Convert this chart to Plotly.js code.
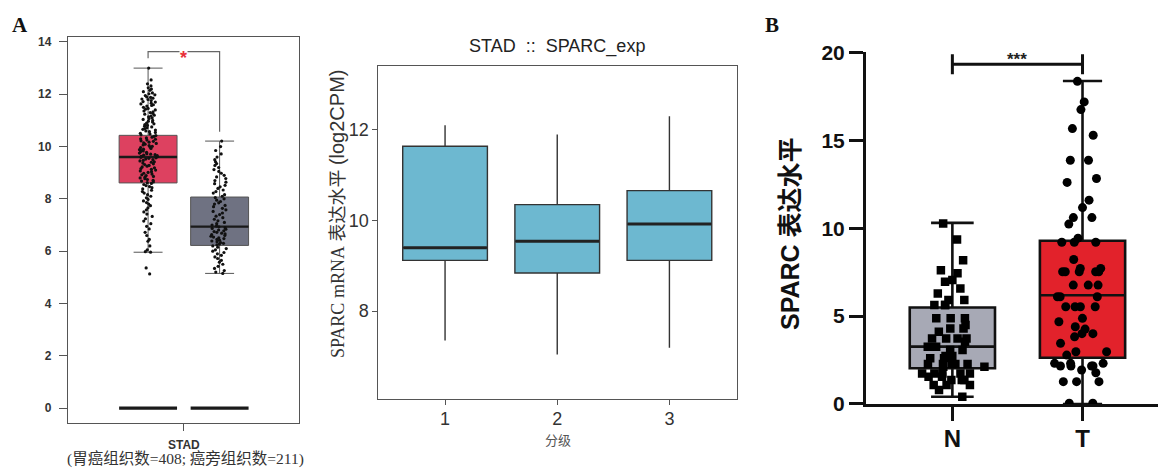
<!DOCTYPE html>
<html>
<head>
<meta charset="utf-8">
<script src="https://cdn.plot.ly/plotly-3.0.1.min.js"></script>
<style>html,body{margin:0;padding:0;background:#fff;}#chart{width:1158px;height:469px;}</style>
</head>
<body>
<div id="chart"></div>
<script>
// ---------- Panel A (left): GEPIA box plot ----------
const gepiaGroups = ['Tumor', 'Normal'];
const gepiaPos = [1, 2];
const gepiaQ1 = [8.61, 6.22];
const gepiaMedian = [9.60, 6.94];
const gepiaQ3 = [10.43, 8.07];
const gepiaLow = [5.96, 5.15];
const gepiaHigh = [13.0, 10.21];
const gepiaZero = [0, 0];
const gepiaTick = ['STAD'];
const tumorPts = [
13.0, 12.55, 12.4, 12.32, 12.25, 12.2, 12.15, 12.1, 12.05, 12.02, 11.98, 11.95, 11.9, 11.88, 11.85, 11.82, 11.8, 11.76, 11.72, 11.7,
11.66, 11.63, 11.6, 11.57, 11.55, 11.5, 11.46, 11.43, 11.4, 11.36, 11.33, 11.3, 11.27, 11.24, 11.2, 11.17, 11.14, 11.1, 11.07, 11.04,
11.0, 10.97, 10.94, 10.9, 10.87, 10.84, 10.81, 10.78, 10.75, 10.72, 10.69, 10.66, 10.63, 10.6, 10.57, 10.54, 10.51, 10.48, 10.45,
10.42, 10.39, 10.36, 10.33, 10.3, 10.28, 10.25, 10.22, 10.2, 10.17, 10.14, 10.12, 10.09, 10.06, 10.04, 10.01, 9.98, 9.96, 9.93, 9.9,
9.88, 9.85, 9.83, 9.8, 9.78, 9.75, 9.73, 9.71, 9.69, 9.67, 9.65, 9.63, 9.61,
9.59, 9.57, 9.55, 9.52, 9.5, 9.47, 9.45, 9.42, 9.4, 9.37, 9.34, 9.31, 9.28, 9.25, 9.22, 9.19, 9.16, 9.13, 9.1, 9.07,
9.04, 9.01, 8.98, 8.95, 8.92, 8.89, 8.86, 8.83, 8.8, 8.77, 8.74, 8.71, 8.68, 8.65, 8.62,
8.59, 8.55, 8.51, 8.47, 8.43, 8.38, 8.33, 8.28, 8.22, 8.16, 8.1, 8.04, 7.98, 7.92, 7.86, 7.8, 7.74, 7.66, 7.58, 7.5,
7.42, 7.33, 7.24, 7.15, 7.05, 6.95, 6.85, 6.72, 6.6, 6.45, 6.38, 6.2, 6.05, 5.98, 5.96, 5.36, 5.13
];
const normalPts = [
10.21, 10.0, 9.85, 9.72, 9.6, 9.5, 9.42, 9.35, 9.28, 9.2, 9.12, 9.05, 8.98, 8.9, 8.84, 8.78, 8.7, 8.64, 8.58, 8.52,
8.46, 8.4, 8.34, 8.28, 8.22, 8.16, 8.1,
8.05, 8.0, 7.95, 7.9, 7.85, 7.8, 7.75, 7.7, 7.64, 7.58, 7.52, 7.46, 7.4, 7.34, 7.28, 7.22, 7.16, 7.1, 7.05, 7.0, 6.96,
6.93, 6.9, 6.87, 6.84, 6.81, 6.78, 6.75, 6.72, 6.69, 6.66, 6.63, 6.6, 6.57, 6.54, 6.51, 6.48, 6.45, 6.42, 6.39, 6.36,
6.33, 6.3, 6.27, 6.24,
6.2, 6.15, 6.1, 6.05, 6.0, 5.95, 5.9, 5.84, 5.78, 5.72, 5.65, 5.58, 5.5, 5.42, 5.34, 5.26, 5.2, 5.15
];

// ---------- Panel A (right): grade box plot ----------
const gradeCats = [1, 2, 3];
const gradeQ1 = [9.12, 8.84, 9.12];
const gradeMedian = [9.40, 9.54, 9.92];
const gradeQ3 = [11.64, 10.35, 10.66];
const gradeLow = [7.35, 7.04, 7.19];
const gradeHigh = [12.10, 11.90, 12.30];

// ---------- Panel B: N vs T ----------
const bCats = ['N', 'T'];
const bQ1 = [2.03, 2.63];
const bMedian = [3.26, 6.18];
const bQ3 = [5.49, 9.28];
const bLow = [0.41, 0.0];
const bHigh = [10.30, 18.37];
const nVals = [
10.27, 9.36, 8.18, 7.61, 7.43, 7.05, 6.95, 6.57, 6.29, 5.91, 5.91, 5.63, 5.63, 5.63,
4.87, 4.87, 4.87, 4.49, 4.30, 4.30, 4.11, 3.73, 3.73, 3.73, 3.73, 3.54, 3.26, 3.26, 3.07, 3.07,
2.73, 2.73, 2.60, 2.60, 2.27, 2.27, 2.27, 2.27, 2.27, 2.12, 2.12, 1.74, 1.74, 1.74, 1.74, 1.74,
1.55, 1.55, 1.36, 1.36, 1.36, 1.08, 1.08, 1.08, 0.80, 0.41
];
const tVals = [
18.35, 17.18, 16.74, 15.66, 15.28, 13.86, 13.86, 12.82, 12.60, 11.59, 11.17, 10.60, 10.60, 10.23,
9.43, 9.20, 9.20, 9.20, 8.22, 7.71, 7.71, 7.52, 7.52, 7.52, 7.52, 7.52,
6.76, 6.76, 6.76, 6.10, 6.10, 6.10, 5.53, 5.53, 5.53, 5.53,
4.87, 4.68, 4.39, 4.26, 4.00, 4.00, 3.82, 3.45, 2.97, 2.97, 2.78,
2.31, 2.31, 2.31, 2.16, 2.16, 2.16, 2.16, 1.93, 1.78, 1.27, 1.27, 1.27, 0.04, 0.04
];

const SANS = 'Liberation Sans, Arial, sans-serif';
const SERIF = 'Liberation Serif, Times New Roman, serif';
const CJK = 'Liberation Sans, Noto Sans CJK SC, sans-serif';
const clear = 'rgba(0,0,0,0)';

const traces = [];

// --- A left ---
const gepiaFill = ['#DD4160', '#6F7282'];
gepiaGroups.forEach((g, i) => {
  traces.push({
    type: 'box', xaxis: 'x', yaxis: 'y', name: g, x: [gepiaPos[i]],
    q1: [gepiaQ1[i]], median: [gepiaMedian[i]], q3: [gepiaQ3[i]],
    lowerfence: [gepiaLow[i]], upperfence: [gepiaHigh[i]],
    width: 0.81, whiskerwidth: 0.5, fillcolor: gepiaFill[i],
    line: {color: '#555', width: 1}, boxpoints: false, hoverinfo: 'skip'
  });
});
// thicker median
traces.push({
  type: 'box', xaxis: 'x', yaxis: 'y', x: gepiaPos,
  q1: gepiaMedian, median: gepiaMedian, q3: gepiaMedian, lowerfence: gepiaMedian, upperfence: gepiaMedian,
  width: 0.81, whiskerwidth: 0, fillcolor: clear, line: {color: '#1a1a1a', width: 2.4}, boxpoints: false, hoverinfo: 'skip'
});
// zero bars
traces.push({
  type: 'box', xaxis: 'x', yaxis: 'y', x: gepiaPos,
  q1: gepiaZero, median: gepiaZero, q3: gepiaZero, lowerfence: gepiaZero, upperfence: gepiaZero,
  width: 0.81, whiskerwidth: 0, fillcolor: clear, line: {color: '#1a1a1a', width: 3.2}, boxpoints: false, hoverinfo: 'skip'
});
[tumorPts, normalPts].forEach((pts, i) => {
  traces.push({
    type: 'box', xaxis: 'x', yaxis: 'y', y: pts, x0: gepiaPos[i], width: 0.81,
    boxpoints: 'all', jitter: 0.32, pointpos: 0, fillcolor: clear, line: {width: 0, color: clear},
    marker: {color: '#111', size: 3.2}, hoverinfo: 'skip'
  });
});
// significance bracket A
const aTop = gepiaHigh[0] + 0.63;
traces.push({
  type: 'scatter', mode: 'lines', xaxis: 'x', yaxis: 'y',
  x: [gepiaPos[0], gepiaPos[0], gepiaPos[1], gepiaPos[1]],
  y: [gepiaHigh[0] + 0.38, aTop, aTop, gepiaHigh[1] + 0.36],
  line: {color: '#666', width: 1.2}, hoverinfo: 'skip', cliponaxis: false
});

// --- A right ---
traces.push({
  type: 'box', xaxis: 'x2', yaxis: 'y2', x: gradeCats,
  q1: gradeQ1, median: gradeMedian, q3: gradeQ3, lowerfence: gradeLow, upperfence: gradeHigh,
  width: 0.755, whiskerwidth: 0, fillcolor: '#6DB8D0', line: {color: '#333', width: 1.4},
  boxpoints: false, hoverinfo: 'skip'
});
traces.push({
  type: 'box', xaxis: 'x2', yaxis: 'y2', x: gradeCats,
  q1: gradeMedian, median: gradeMedian, q3: gradeMedian, lowerfence: gradeMedian, upperfence: gradeMedian,
  width: 0.745, whiskerwidth: 0, fillcolor: clear, line: {color: '#222', width: 3}, boxpoints: false, hoverinfo: 'skip'
});

// --- B ---
const bFill = ['#A7A9B5', '#E2222B'];
bCats.forEach((c, i) => {
  traces.push({
    type: 'box', xaxis: 'x3', yaxis: 'y3', x: [c],
    q1: [bQ1[i]], median: [bMedian[i]], q3: [bQ3[i]], lowerfence: [bLow[i]], upperfence: [bHigh[i]],
    width: 0.655, whiskerwidth: i === 0 ? 0.5 : 0.46, fillcolor: bFill[i],
    line: {color: '#111', width: 2.6}, boxpoints: false, hoverinfo: 'skip'
  });
});
[nVals, tVals].forEach((vals, i) => {
  traces.push({
    type: 'box', xaxis: 'x3', yaxis: 'y3', y: vals, x: vals.map(() => bCats[i]), width: 0.655,
    boxpoints: 'all', jitter: 0.85, pointpos: 0, fillcolor: clear, line: {width: 0, color: clear},
    marker: {color: '#000', size: i === 0 ? 8.5 : 9, symbol: i === 0 ? 'square' : 'circle'}, hoverinfo: 'skip'
  });
});
const bTop = bHigh[1] + 0.95;
traces.push({
  type: 'scatter', mode: 'lines', xaxis: 'x3', yaxis: 'y3',
  x: [bCats[0], bCats[0], null, bCats[0], bCats[1], null, bCats[1], bCats[1]],
  y: [bTop + 0.57, bTop - 0.57, null, bTop, bTop, null, bTop + 0.57, bTop - 0.57],
  line: {color: '#111', width: 3}, hoverinfo: 'skip', cliponaxis: false
});

const px = v => v / 1158;
const py = v => 1 - v / 469;
const ann = (o) => Object.assign({showarrow: false, xanchor: 'center', yanchor: 'middle'}, o);

const layout = {
  width: 1158, height: 469, margin: {l: 0, r: 0, t: 0, b: 0},
  paper_bgcolor: '#fff', plot_bgcolor: '#fff', showlegend: false, boxmode: 'overlay',
  xaxis: {
    domain: [0.0587, 0.2582], range: [-0.12, 3.11], showgrid: false, zeroline: false,
    showline: true, mirror: true, linecolor: '#555', linewidth: 1.2,
    tickvals: [(gepiaPos[0] + gepiaPos[1]) / 2], ticktext: gepiaTick,
    ticks: 'outside', ticklen: 7, tickcolor: '#555', ticklabelstandoff: 3,
    tickfont: {family: SANS, size: 12, color: '#333', weight: 'bold'}
  },
  yaxis: {
    domain: [0.0981, 0.9211], range: [-0.57, 14.19], showgrid: false, zeroline: false,
    showline: true, mirror: true, linecolor: '#555', linewidth: 1.2,
    tickvals: [0, 2, 4, 6, 8, 10, 12, 14], ticks: 'outside', ticklen: 8, tickcolor: '#555',
    ticklabelstandoff: 5,
    tickfont: {family: SANS, size: 12, color: '#333', weight: 'bold'}
  },
  xaxis2: {
    domain: [0.3267, 0.6362], range: [0.405, 3.6], showgrid: false, zeroline: false,
    showline: true, mirror: true, linecolor: '#555', linewidth: 1,
    tickvals: gradeCats, ticks: 'outside', ticklen: 5, tickcolor: '#555', ticklabelstandoff: -2,
    tickfont: {family: SANS, size: 18, color: '#333'}, anchor: 'y2'
  },
  yaxis2: {
    domain: [0.1493, 0.8593], range: [6.06, 13.41], showgrid: false, zeroline: false,
    showline: true, mirror: true, linecolor: '#555', linewidth: 1,
    tickvals: [8, 10, 12], ticks: 'outside', ticklen: 5, tickcolor: '#555',
    tickfont: {family: SANS, size: 18, color: '#333'}, anchor: 'x2'
  },
  xaxis3: {
    domain: [0.7478, 1.0], range: [-0.664, 1.58], type: 'category', categoryorder: 'array',
    categoryarray: bCats, showgrid: false, zeroline: false,
    showline: true, linecolor: '#111', linewidth: 3,
    ticks: 'outside', ticklen: 14, tickwidth: 3, tickcolor: '#111', ticklabelstandoff: -3,
    tickfont: {family: SANS, size: 24, color: '#111', weight: 'bold'}, anchor: 'y3'
  },
  yaxis3: {
    domain: [0.1386, 0.8885], range: [0, 20], showgrid: false, zeroline: false,
    showline: true, linecolor: '#111', linewidth: 3,
    tickvals: [0, 5, 10, 15, 20], ticks: 'outside', ticklen: 14, tickwidth: 3, tickcolor: '#111',
    tickfont: {family: SANS, size: 21, color: '#111', weight: 'bold'}, anchor: 'x3'
  },
  annotations: [
    ann({xref: 'paper', yref: 'paper', x: px(20), y: py(25), text: 'A',
     font: {family: SERIF, size: 21, color: '#111', weight: 'bold'}}),
    ann({xref: 'paper', yref: 'paper', x: px(772), y: py(25), text: 'B',
     font: {family: SERIF, size: 21, color: '#111', weight: 'bold'}}),
    ann({xref: 'x', yref: 'y', x: (gepiaPos[0] + gepiaPos[1]) / 2, y: aTop, yshift: -6, text: '*',
     bgcolor: '#fff', borderpad: 0, font: {family: SANS, size: 18, color: '#E8313A', weight: 'bold'}}),
    ann({xref: 'paper', yref: 'paper', x: px(185), y: py(459), text: '(胃癌组织数=408; 癌旁组织数=211)',
     font: {family: 'Liberation Serif, Noto Sans CJK SC, serif', size: 15.5, color: '#333'}}),
    ann({xref: 'paper', yref: 'paper', x: px(557), y: py(47), text: 'STAD  ::  SPARC_exp',
     font: {family: SANS, size: 18, color: '#222'}}),
    ann({xref: 'paper', yref: 'paper', x: px(337), y: py(214), textangle: -90,
     text: '<span style="font-family:Liberation Serif">SPARC mRNA</span> 表达水平 <span style="font-family:Liberation Sans;font-size:20px">(log2CPM)</span>',
     font: {family: 'Liberation Serif, Noto Sans CJK SC, serif', size: 18, color: '#333'}}),
    ann({xref: 'paper', yref: 'paper', x: px(558), y: py(439), text: '分级',
     font: {family: 'Noto Sans CJK SC, sans-serif', size: 13, color: '#555'}}),
    ann({xref: 'paper', yref: 'paper', x: px(790), y: py(234), textangle: -90, text: 'SPARC 表达水平',
     font: {family: CJK, size: 25, color: '#111', weight: 'bold'}}),
    ann({xref: 'x3', yref: 'y3', x: 0.5, y: bTop, yanchor: 'bottom', yshift: -7, text: '***',
     font: {family: SANS, size: 17, color: '#222', weight: 'bold'}})
  ]
};

Plotly.newPlot('chart', traces, layout, {staticPlot: true});
</script>
</body>
</html>
